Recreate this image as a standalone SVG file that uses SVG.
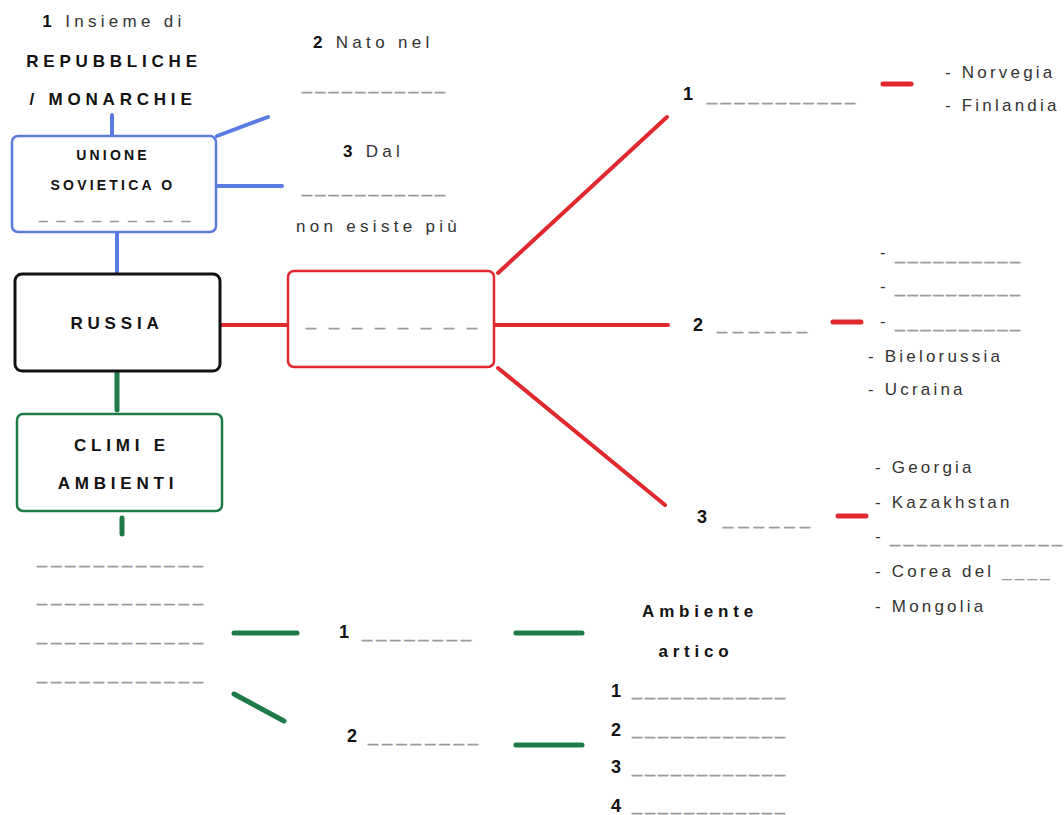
<svg xmlns="http://www.w3.org/2000/svg" width="1064" height="815" viewBox="0 0 1064 815">
  <style>
    text { font-family: "Liberation Sans", Arial, sans-serif; }
    .t { font-size: 17px; fill: #333; letter-spacing: 4.3px; }
    .b { font-size: 17px; font-weight: bold; fill: #111; letter-spacing: 4.8px; }
    .bs { font-size: 14px; font-weight: bold; fill: #111; letter-spacing: 3.2px; }
    .li { font-size: 17px; fill: #333; letter-spacing: 3.2px; }
    .n { font-size: 18px; font-weight: bold; fill: #111; }
    .nb { font-weight: bold; fill: #111; }
    .blank { font-size: 18px; fill: #9a9a9a; stroke: #9a9a9a; stroke-width: 0.4; }
    .mid { text-anchor: middle; }
    .box { fill: #fff; stroke-width: 2.5; }
    .blue { stroke: #5a7be2; }
    .red { stroke: #e0282e; }
    .green { stroke: #1e7a46; }
    .black { stroke: #111; stroke-width: 3; }
    .conn line { stroke-width: 4; stroke-linecap: round; fill: none; }
    .conn .g { stroke-width: 5; }
    .conn .stub { stroke-width: 5; }
  </style>

  <!-- connectors -->
  <g id="connectors" class="conn">
    <line class="blue" x1="112" y1="115" x2="112" y2="135"/>
    <line class="blue" x1="217" y1="136" x2="268" y2="117"/>
    <line class="blue" x1="218" y1="186" x2="282" y2="186"/>
    <line class="blue" x1="117" y1="233" x2="117" y2="272"/>

    <line class="red" x1="221" y1="325" x2="288" y2="325"/>
    <line class="red" x1="498" y1="273" x2="667" y2="117"/>
    <line class="red" x1="495" y1="325" x2="668" y2="325"/>
    <line class="red" x1="498" y1="368" x2="665" y2="505"/>
    <line class="red stub" x1="883" y1="84" x2="911" y2="84"/>
    <line class="red stub" x1="833" y1="322" x2="861" y2="322"/>
    <line class="red stub" x1="838" y1="516" x2="866" y2="516"/>

    <line class="green g" x1="117" y1="373" x2="117" y2="410"/>
    <line class="green g" x1="122" y1="518" x2="122" y2="534"/>
    <line class="green g" x1="234" y1="633" x2="297" y2="633"/>
    <line class="green g" x1="234" y1="694" x2="284" y2="721"/>
    <line class="green g" x1="516" y1="633" x2="582" y2="633"/>
    <line class="green g" x1="516" y1="745" x2="582" y2="745"/>
  </g>

  <!-- top label above the Soviet Union box -->
  <g id="label-insieme">
    <text class="t mid" x="114" y="27"><tspan class="nb">1</tspan> Insieme di</text>
    <text class="b mid" x="114" y="67">REPUBBLICHE</text>
    <text class="b mid" x="113" y="105">/ MONARCHIE</text>
  </g>

  <g id="node-unione">
    <rect class="box blue" x="12" y="136" width="204" height="96" rx="6"/>
    <text class="bs mid" x="113" y="160">UNIONE</text>
    <text class="bs mid" x="113" y="190">SOVIETICA O</text>
    <text class="blank" x="39" y="219" textLength="151" lengthAdjust="spacing" style="font-size:15px">_________</text>
  </g>

  <g id="label-nato">
    <text class="t" x="313" y="48"><tspan class="nb">2</tspan> Nato nel</text>
    <text class="blank" x="302" y="89" textLength="143" lengthAdjust="spacing">___________</text>
  </g>

  <g id="label-dal">
    <text class="t" x="343" y="157"><tspan class="nb">3</tspan> Dal</text>
    <text class="blank" x="302" y="192" textLength="143" lengthAdjust="spacing">___________</text>
    <text class="t" x="296" y="232">non esiste più</text>
  </g>

  <g id="node-russia">
    <rect class="box black" x="15" y="274" width="205" height="97" rx="7"/>
    <text class="b mid" x="117" y="329">RUSSIA</text>
  </g>

  <g id="node-confini">
    <rect class="box red" x="288" y="271" width="206" height="96" rx="6"/>
    <text class="blank" x="306" y="325" textLength="171" lengthAdjust="spacing">________</text>
  </g>

  <g id="node-clima">
    <rect class="box green" x="17" y="414" width="205" height="97" rx="6"/>
    <text class="b mid" x="122" y="451">CLIMI E</text>
    <text class="b mid" x="118" y="489">AMBIENTI</text>
  </g>

  <!-- northern neighbours -->
  <g id="branch-1">
    <text class="n" x="683" y="100">1</text>
    <text class="blank" x="707" y="100" textLength="148" lengthAdjust="spacing">___________</text>
    <text class="li" x="945" y="78">- Norvegia</text>
    <text class="li" x="945" y="111">- Finlandia</text>
  </g>

  <!-- western neighbours -->
  <g id="branch-2">
    <text class="n" x="693" y="331">2</text>
    <text class="blank" x="717" y="329" textLength="90" lengthAdjust="spacing">______</text>
    <text class="li" x="880" y="258">-</text>
    <text class="blank" x="895" y="259" textLength="125" lengthAdjust="spacing">__________</text>
    <text class="li" x="880" y="292">-</text>
    <text class="blank" x="895" y="292" textLength="125" lengthAdjust="spacing">__________</text>
    <text class="li" x="880" y="327">-</text>
    <text class="blank" x="895" y="327" textLength="125" lengthAdjust="spacing">__________</text>
    <text class="li" x="868" y="362">- Bielorussia</text>
    <text class="li" x="868" y="395">- Ucraina</text>
  </g>

  <!-- southern neighbours -->
  <g id="branch-3">
    <text class="n" x="697" y="523">3</text>
    <text class="blank" x="723" y="524" textLength="87" lengthAdjust="spacing">______</text>
    <text class="li" x="875" y="473">- Georgia</text>
    <text class="li" x="875" y="508">- Kazakhstan</text>
    <text class="li" x="875" y="542">-</text>
    <text class="blank" x="890" y="542" textLength="172" lengthAdjust="spacing">_____________</text>
    <text class="li" x="875" y="577">- Corea del <tspan style="fill:#9a9a9a">____</tspan></text>
    <text class="li" x="875" y="612">- Mongolia</text>
  </g>

  <!-- climate answers -->
  <g id="clima-list">
    <text class="blank" x="37" y="563" textLength="166" lengthAdjust="spacing">____________</text>
    <text class="blank" x="37" y="601" textLength="166" lengthAdjust="spacing">____________</text>
    <text class="blank" x="37" y="640" textLength="166" lengthAdjust="spacing">____________</text>
    <text class="blank" x="37" y="679" textLength="166" lengthAdjust="spacing">____________</text>
  </g>

  <g id="clima-1">
    <text class="n" x="339" y="638">1</text>
    <text class="blank" x="362" y="637" textLength="109" lengthAdjust="spacing">________</text>
  </g>

  <g id="clima-2">
    <text class="n" x="347" y="742">2</text>
    <text class="blank" x="368" y="741" textLength="110" lengthAdjust="spacing">________</text>
  </g>

  <g id="ambiente-artico">
    <text class="b mid" x="700" y="617">Ambiente</text>
    <text class="b mid" x="696" y="657">artico</text>
    <text class="n" x="611" y="697">1</text>
    <text class="blank" x="632" y="695" textLength="153" lengthAdjust="spacing">____________</text>
    <text class="n" x="611" y="736">2</text>
    <text class="blank" x="632" y="734" textLength="153" lengthAdjust="spacing">____________</text>
    <text class="n" x="611" y="773">3</text>
    <text class="blank" x="632" y="772" textLength="153" lengthAdjust="spacing">____________</text>
    <text class="n" x="611" y="812">4</text>
    <text class="blank" x="632" y="810" textLength="153" lengthAdjust="spacing">____________</text>
  </g>
</svg>
